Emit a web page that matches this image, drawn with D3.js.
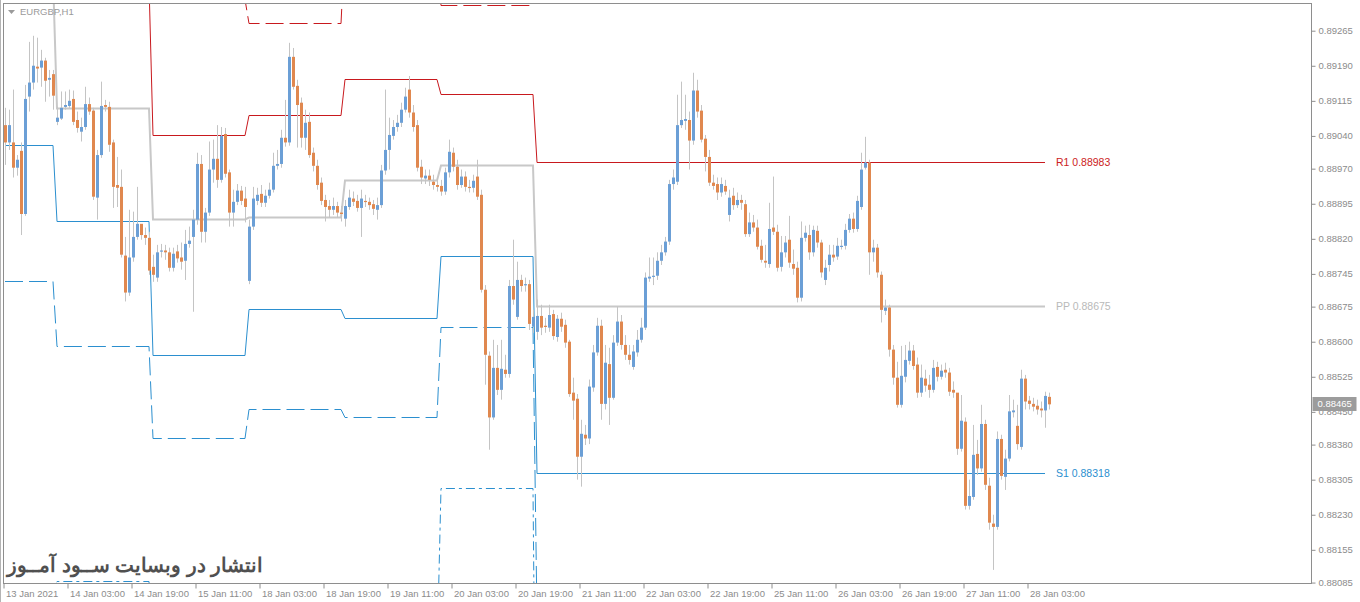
<!DOCTYPE html>
<html>
<head>
<meta charset="utf-8">
<script src="https://cdn.jsdelivr.net/npm/d3@7"></script>
<style>
  body { margin: 0; background: #fff; overflow: hidden; }
  text { font-family: "Liberation Sans", Arial, sans-serif; }
</style>
</head>
<body>
<svg id="chart" width="1360" height="602"></svg>
<script>
//Chart title shown in the top left corner
const symbolName = "EURGBP,H1";
const watermark = "انتشار در وبسایت ســود آمــوز";

//Hourly bars, prices in points (1 point = 0.00001)
const barOpen = [
  89062,89025,89025,88971,89007,88872,89123,89153,89187,89185,
  89200,89159,89171,89069,89076,89101,89103,89118,89073,89048,
  89058,89107,89093,88907,88998,89105,89101,89025,88934,88930,
  88783,88704,88779,88823,88851,88827,88821,88759,88736,88792,
  88794,88790,88757,88792,88779,88772,88808,88823,88860,88979,
  88834,88875,88967,88990,88945,89043,88961,88875,88898,88922,
  88905,88729,88845,88900,88915,88896,88911,88924,88975,88979,
  89035,89025,89208,89146,89110,89035,89069,89003,88975,88939,
  88902,88889,88881,88889,88875,88862,88887,88905,88900,88885,
  88900,88898,88893,88881,88891,88965,89009,89039,89058,89067,
  89095,89138,89089,89062,88973,88948,88954,88941,88934,88932,
  88920,88961,89003,88973,88934,88952,88930,88928,88952,88913,
  88710,88569,88437,88543,88496,88539,88530,88718,88652,88731,
  88720,88722,88631,88620,88654,88633,88629,88658,88609,88648,
  88635,88599,88490,88477,88353,88400,88392,88501,88576,88633,
  88466,88551,88479,88597,88642,88592,88571,88545,88576,88603,
  88629,88734,88738,88740,88772,88790,88813,88936,88941,89062,
  89071,89073,89029,89136,89093,89033,88994,88939,88936,88918,
  88932,88870,88911,88891,88902,88893,88829,88854,88843,88804,
  88772,88765,88843,88834,88759,88790,88817,88765,88757,88693,
  88821,88827,88790,88836,88811,88731,88763,88785,88781,88802,
  88804,88838,88862,88840,88887,88971,88982,88790,88800,88742,
  88665,88672,88582,88522,88464,88524,88558,88580,88550,88490,
  88520,88507,88496,88545,88524,88539,88533,88496,88490,88370,
  88428,88248,88267,88359,88328,88423,88291,88210,88203,88391,
  88310,88349,88448,88419,88374,88520,88473,88466,88462,88456,
  88452,88481
];
const barHigh = [
  89099,89095,89138,88998,89025,89148,89240,89253,89249,89223,
  89206,89180,89180,89101,89134,89134,89138,89136,89091,89078,
  89144,89121,89099,89009,89155,89116,89112,89031,88994,88967,
  88823,88881,88877,88930,88845,88843,88834,88785,88806,88808,
  88806,88800,88800,88806,88811,88838,88845,88881,89003,88998,
  88885,89027,89031,89062,89058,89056,88967,88924,88936,88932,
  88930,88860,88930,88928,88934,88924,88939,89003,89009,89052,
  89116,89238,89227,89159,89121,89095,89089,89014,88988,88950,
  88913,88902,88907,88898,88889,88902,88924,88920,88913,88924,
  88913,88907,88902,88907,88977,89138,89078,89073,89084,89110,
  89142,89167,89105,89073,88988,88967,88967,88956,88950,88945,
  88971,89031,89014,88988,88967,88963,88945,88956,88988,88924,
  88720,88578,88603,88592,88603,88571,88731,88817,88770,88742,
  88736,88731,88667,88689,88678,88650,88678,88667,88656,88661,
  88646,88603,88522,88487,88432,88421,88518,88592,88650,88646,
  88592,88586,88613,88674,88656,88613,88592,88592,88624,88650,
  88747,88779,88779,88790,88806,88823,88945,88967,89127,89155,
  89127,89091,89174,89159,89105,89041,89009,88956,88950,88950,
  88945,88924,88928,88918,88913,88902,88875,88870,88860,88817,
  88806,88896,88952,88849,88825,88825,88868,88796,88770,88856,
  88847,88849,88847,88847,88817,88774,88806,88806,88821,88817,
  88851,88872,88875,88911,89003,89037,88988,88817,88808,88749,
  88689,88678,88592,88556,88590,88592,88599,88592,88565,88550,
  88539,88528,88560,88556,88550,88554,88543,88514,88479,88485,
  88437,88304,88421,88389,88464,88432,88308,88229,88407,88400,
  88368,88485,88475,88464,88539,88528,88483,88479,88475,88471,
  88492,88490
];
const barLow = [
  88977,89009,88950,88954,88827,88868,89091,89138,89153,89144,
  89112,89123,89095,89062,89073,89095,89099,89062,89046,89027,
  89052,89084,88902,88860,88992,89091,89005,88885,88887,88779,
  88685,88697,88770,88817,88817,88806,88742,88727,88727,88779,
  88774,88749,88749,88768,88753,88731,88800,88663,88849,88811,
  88811,88868,88939,88928,88939,88950,88845,88845,88891,88891,
  88854,88722,88838,88891,88887,88887,88905,88918,88967,88971,
  89016,89018,89138,89014,89014,89009,88992,88963,88924,88891,
  88856,88864,88870,88864,88856,88845,88881,88889,88877,88823,
  88887,88881,88870,88860,88885,88956,88967,89031,89048,89058,
  89089,89078,89048,88963,88936,88936,88932,88924,88920,88911,
  88913,88950,88963,88924,88928,88920,88918,88918,88902,88704,
  88507,88368,88432,88485,88475,88522,88522,88678,88646,88706,
  88706,88624,88618,88603,88613,88618,88620,88603,88599,88620,
  88586,88481,88432,88304,88289,88378,88380,88492,88569,88432,
  88454,88421,88475,88590,88582,88560,88550,88539,88567,88597,
  88624,88727,88720,88731,88763,88783,88806,88924,88934,89056,
  89052,88967,89020,89078,89025,88963,88932,88924,88902,88909,
  88913,88856,88881,88885,88881,88823,88823,88834,88796,88768,
  88757,88757,88827,88749,88749,88779,88757,88742,88683,88685,
  88813,88774,88781,88800,88736,88720,88749,88770,88774,88796,
  88796,88832,88832,88834,88881,88967,88742,88770,88736,88640,
  88656,88567,88507,88458,88458,88512,88550,88539,88479,88481,
  88492,88479,88490,88514,88518,88522,88483,88479,88357,88364,
  88240,88240,88261,88314,88321,88282,88197,88111,88197,88304,
  88282,88343,88437,88368,88368,88454,88454,88450,88443,88437,
  88415,88454
];
const barClose = [
  89025,89062,88971,88988,88872,89118,89153,89189,89183,89200,
  89157,89163,89125,89078,89099,89105,89114,89069,89056,89058,
  89107,89091,88909,88998,89103,89101,89020,88930,88928,88785,
  88704,88779,88823,88851,88827,88821,88751,88742,88790,88794,
  88790,88757,88787,88777,88770,88808,88815,88860,88979,88834,
  88875,88967,88990,88945,89039,88958,88875,88898,88922,88900,
  88887,88845,88905,88913,88896,88911,88924,88975,88979,89035,
  89025,89208,89144,89105,89035,89067,88998,88975,88934,88900,
  88887,88881,88889,88875,88872,88889,88907,88898,88885,88905,
  88898,88891,88883,88891,88965,89009,89041,89058,89067,89095,
  89123,89089,89058,88971,88950,88954,88945,88934,88930,88920,
  88961,89005,88973,88934,88952,88930,88928,88943,88909,88710,
  88571,88437,88543,88496,88541,88530,88718,88689,88731,88718,
  88722,88637,88652,88654,88629,88631,88656,88611,88648,88631,
  88597,88487,88473,88353,88402,88392,88503,88576,88633,88466,
  88554,88479,88597,88642,88592,88571,88560,88578,88603,88629,
  88736,88738,88740,88772,88790,88813,88936,88950,89062,89073,
  89075,89029,89136,89091,89031,88994,88939,88932,88918,88936,
  88920,88907,88891,88902,88896,88829,88854,88843,88802,88774,
  88768,88840,88834,88757,88790,88811,88768,88755,88693,88821,
  88832,88790,88838,88811,88747,88757,88785,88779,88804,88804,
  88838,88862,88840,88900,88967,88982,88790,88800,88747,88667,
  88672,88582,88522,88464,88526,88560,88580,88547,88490,88522,
  88505,88496,88543,88524,88537,88533,88492,88490,88370,88430,
  88248,88269,88357,88328,88423,88293,88212,88203,88391,88312,
  88349,88450,88452,88380,88520,88471,88466,88460,88454,88452,
  88483,88465
];
const lastPrice = 0.88465;

//Price axis ticks (as printed on the right scale)
const priceTicks = [0.89265,0.89190,0.89115,0.89040,0.88970,0.88895,0.88820,0.88745,
  0.88675,0.88600,0.88525,0.88450,0.88380,0.88305,0.88230,0.88155,0.88085];

//Time axis: bar index of each label and its text
const timeTickBars = [0,16,32,48,64,80,96,112,128,144,160,176,192,208,224,240,256];
const timeTickLabels = ["13 Jan 2021","14 Jan 03:00","14 Jan 19:00","15 Jan 11:00",
  "18 Jan 03:00","18 Jan 19:00","19 Jan 11:00","20 Jan 03:00","20 Jan 19:00",
  "21 Jan 11:00","22 Jan 03:00","22 Jan 19:00","25 Jan 11:00","26 Jan 03:00",
  "26 Jan 19:00","27 Jan 11:00","28 Jan 03:00"];

//Daily pivot levels: first bar of each session and the level values
const sessionStart = [0,13,37,61,85,109,133];
const pivotPP = [0.89380,0.89099,0.88862,0.88866,0.88945,0.88977,0.88675];
const pivotR1 = [0.89671,0.89365,0.89041,0.89084,0.89161,0.89129,0.88983];
const pivotR2 = [0.90031,0.89608,0.89332,0.89281,0.89456,0.89319,0.89340];
const pivotS1 = [0.89020,0.88856,0.88571,0.88669,0.88650,0.88783,0.88318];
const pivotS2 = [0.88729,0.88590,0.88392,0.88454,0.88439,0.88631,0.88010];
const pivotS3 = [0.88078,0.88088,0.87922,0.88036,0.87923,0.88287,0.87345];
const pivotLineEndBar = 260;

//Plot frame
let plot = { left: 3.5, top: 3.5, right: 1311.5, bottom: 583.5 };
let svg = d3.select("#chart");

//Scales: bar index -> x, price -> y
let x = d3.scaleLinear().domain([0, barClose.length - 1]).range([5, 1049]);
let y = d3.scaleLinear().domain([0.88083, 0.89321]).range([583, 4]);

//build the bar list
let bars = barClose.map(function (c, i) {
  return { i: i, o: barOpen[i] / 1e5, h: barHigh[i] / 1e5, l: barLow[i] / 1e5, c: c / 1e5 };
});

svg.append("rect").attr("width", 1360).attr("height", 602).attr("fill", "#fff");

//clip for everything inside the plot
svg.append("clipPath").attr("id", "plotClip")
  .append("rect").attr("x", 4).attr("y", 4).attr("width", 1307).attr("height", 579);

let g = svg.append("g").attr("clip-path", "url(#plotClip)");

//pivot step lines
let levels = [
  { vals: pivotS3, color: "#2b8fcf", width: 1, dash: "9,4,3,4" },
  { vals: pivotS2, color: "#2b8fcf", width: 1, dash: "18,6" },
  { vals: pivotR2, color: "#c8191e", width: 1, dash: "18,6" },
  { vals: pivotPP, color: "#c8c8c8", width: 2, dash: null },
  { vals: pivotS1, color: "#2b8fcf", width: 1, dash: null },
  { vals: pivotR1, color: "#c8191e", width: 1, dash: null }
];
let line = d3.line()
  .x(function (d) { return x(d.i); })
  .y(function (d) { return Math.round(y(d.v)) + 0.5; });

levels.forEach(function (lv) {
  let pts = d3.range(0, pivotLineEndBar + 1).map(function (i) {
    let s = d3.bisectRight(sessionStart, i) - 1;
    return { i: i, v: lv.vals[s] };
  });
  g.append("path")
    .attr("d", line(pts))
    .attr("fill", "none")
    .attr("stroke", lv.color)
    .attr("stroke-width", lv.width)
    .attr("stroke-dasharray", lv.dash);
});

//candles: wick then body
let candle = g.selectAll(".bar").data(bars).enter().append("g").attr("class", "bar");
candle.append("line")
  .attr("x1", function (d) { return Math.round(x(d.i)) + 0.5; })
  .attr("x2", function (d) { return Math.round(x(d.i)) + 0.5; })
  .attr("y1", function (d) { return y(d.h); })
  .attr("y2", function (d) { return y(d.l); })
  .attr("stroke", "#c4c4c4")
  .attr("stroke-width", 1);
candle.append("rect")
  .attr("x", function (d) { return Math.round(x(d.i)) - 1; })
  .attr("width", 3)
  .attr("y", function (d) { return y(Math.max(d.o, d.c)); })
  .attr("height", function (d) { return Math.max(1.2, Math.abs(y(d.o) - y(d.c))); })
  .attr("fill", function (d) { return d.c >= d.o ? "#6b9fd6" : "#e0884f"; });

//labels of the current pivot levels
let lastSeg = sessionStart.length - 1;
[["R1", pivotR1, "#cc2222"], ["PP", pivotPP, "#b9b9b9"], ["S1", pivotS1, "#2b8fcf"]].forEach(function (p) {
  svg.append("text")
    .attr("x", x(pivotLineEndBar) + 11)
    .attr("y", y(p[1][lastSeg]))
    .attr("dy", "0.35em")
    .attr("font-size", "10.5px")
    .attr("fill", p[2])
    .text(p[0] + " " + p[1][lastSeg].toFixed(5));
});

//frame
svg.append("line").attr("x1", 0.5).attr("x2", 0.5).attr("y1", 0).attr("y2", 602).attr("stroke", "#b4b4b4");
svg.append("rect")
  .attr("x", plot.left).attr("y", plot.top)
  .attr("width", plot.right - plot.left).attr("height", plot.bottom - plot.top)
  .attr("fill", "none").attr("stroke", "#8e8e8e");

//price axis
let yAxis = svg.append("g").attr("transform", "translate(" + plot.right + ",0.5)")
  .call(d3.axisRight(y).tickValues(priceTicks).tickFormat(d3.format(".5f")).tickSize(4).tickPadding(3));
yAxis.select(".domain").remove();
yAxis.selectAll("line").attr("stroke", "#8e8e8e");
yAxis.selectAll("text").attr("fill", "#8c8c8c").attr("font-size", "9.5px")
  .attr("font-family", "Liberation Sans, Arial, sans-serif");

//time axis
let xAxis = svg.append("g").attr("transform", "translate(-1.5," + plot.bottom + ")")
  .call(d3.axisBottom(x).tickValues(timeTickBars)
    .tickFormat(function (d, i) { return timeTickLabels[i]; }).tickSize(5));
xAxis.select(".domain").remove();
xAxis.selectAll("line").attr("stroke", "#8e8e8e");
xAxis.selectAll("text")
  .attr("text-anchor", "start").attr("x", 2).attr("y", 7)
  .attr("fill", "#8c8c8c").attr("font-size", "9.5px")
  .attr("font-family", "Liberation Sans, Arial, sans-serif");

//current price marker
let lp = Math.round(y(lastPrice));
svg.append("rect").attr("x", plot.right + 1).attr("y", lp - 7).attr("width", 44).attr("height", 14).attr("fill", "#9c9c9c");
svg.append("text").attr("x", plot.right + 6).attr("y", lp).attr("dy", "0.35em")
  .attr("font-size", "9.5px").attr("fill", "#fff").text(lastPrice.toFixed(5));

//symbol name
svg.append("path").attr("d", "M8,10 L15,10 L11.5,14 Z").attr("fill", "#9a9a9a");
svg.append("text").attr("x", 20).attr("y", 12).attr("dy", "0.35em")
  .attr("font-size", "9.5px").attr("fill", "#9a9a9a").text(symbolName);

//watermark
svg.append("text")
  .attr("x", 263).attr("y", 572)
  .attr("direction", "rtl").attr("text-anchor", "start")
  .attr("font-family", "DejaVu Sans, sans-serif")
  .attr("font-weight", "bold").attr("font-size", "19.5px")
  .attr("fill", "#505050")
  .text(watermark);
</script>
</body>
</html>
